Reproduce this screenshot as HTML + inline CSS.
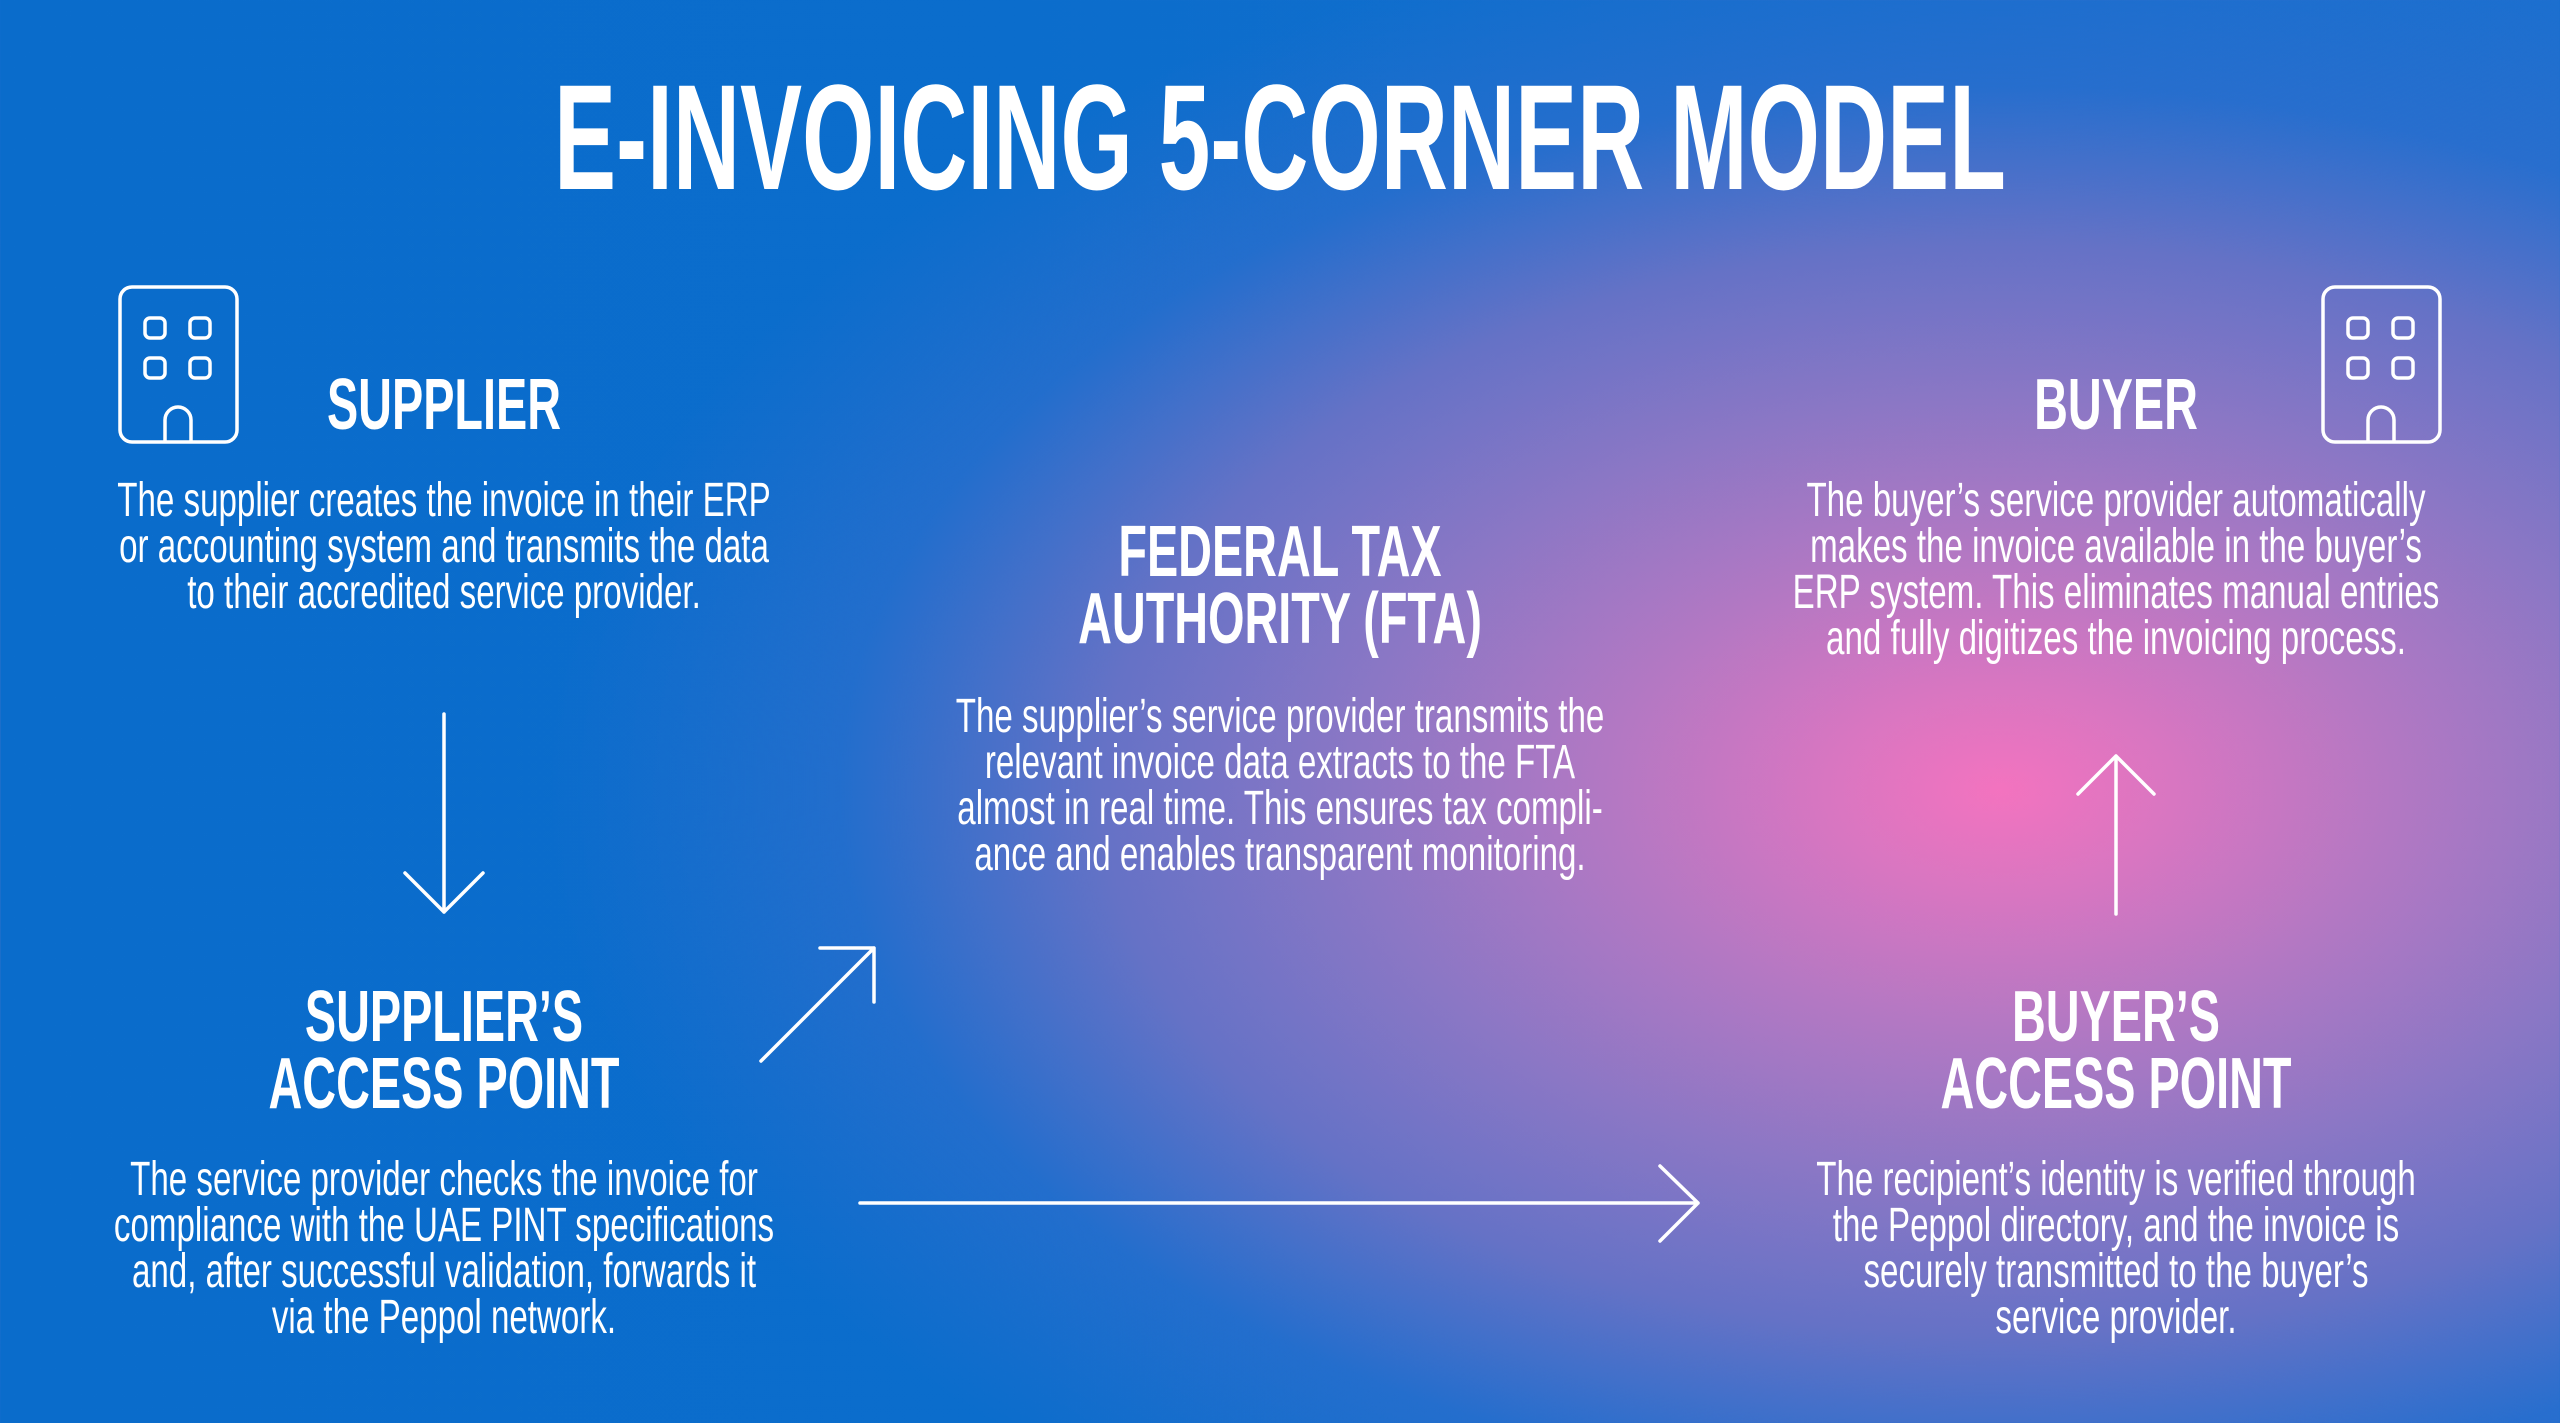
<!DOCTYPE html>
<html><head><meta charset="utf-8"><style>
html,body{margin:0;padding:0}
body{width:2560px;height:1423px;position:relative;overflow:hidden;
background:
radial-gradient(ellipse 1450px 880px at 2000px 790px, #f373bf 0%, #d876c1 12%, #b378c3 27%, #8a77c5 45%, #6572c6 62%, rgba(50,110,205,0.6) 80%, rgba(11,108,203,0) 100%),
linear-gradient(90deg,#0a6ccb 0%,#0b6dcc 40%,#1a6fcf 100%);
font-family:"Liberation Sans",sans-serif;color:#fff}
.t{position:absolute;width:2000px;text-align:center;white-space:nowrap;transform-origin:50% 50%}
.title{font-weight:bold;font-size:150px;line-height:150px;left:-220px;top:62px;width:3000px;transform:scaleX(0.62)}
.h{font-weight:bold;font-size:72px;line-height:67px;transform:scaleX(0.65)}
.b{font-size:48px;line-height:46px;transform:scaleX(0.69)}
svg{position:absolute;left:0;top:0}
</style></head><body>
<div class="t title">E-INVOICING 5-CORNER MODEL</div>

<div class="t h" style="left:-556px;top:372px">SUPPLIER</div>
<div class="t b" style="left:-556px;top:478px">The supplier creates the invoice in their ERP<br>or accounting system and transmits the data<br>to their accredited service provider.</div>

<div class="t h" style="left:280px;top:519px">FEDERAL TAX<br>AUTHORITY (FTA)</div>
<div class="t b" style="left:280px;top:694px">The supplier’s service provider transmits the<br>relevant invoice data extracts to the FTA<br>almost in real time. This ensures tax compli-<br>ance and enables transparent monitoring.</div>

<div class="t h" style="left:1116px;top:372px">BUYER</div>
<div class="t b" style="left:1116px;top:478px">The buyer’s service provider automatically<br>makes the invoice available in the buyer’s<br>ERP system. This eliminates manual entries<br>and fully digitizes the invoicing process.</div>

<div class="t h" style="left:-556px;top:984px">SUPPLIER’S<br>ACCESS POINT</div>
<div class="t b" style="left:-556px;top:1157px">The service provider checks the invoice for<br>compliance with the UAE PINT specifications<br>and, after successful validation, forwards it<br>via the Peppol network.</div>

<div class="t h" style="left:1116px;top:984px">BUYER’S<br>ACCESS POINT</div>
<div class="t b" style="left:1116px;top:1157px">The recipient’s identity is verified through<br>the Peppol directory, and the invoice is<br>securely transmitted to the buyer’s<br>service provider.</div>

<svg width="2560" height="1423" viewBox="0 0 2560 1423" fill="none" stroke="#fff" stroke-width="3.5" stroke-linecap="round" stroke-linejoin="round">
  <g id="ic">
    <rect x="120" y="287" width="117" height="155" rx="12"/>
    <rect x="145" y="318" width="20" height="20" rx="5"/>
    <rect x="190" y="318" width="20" height="20" rx="5"/>
    <rect x="145" y="358" width="20" height="20" rx="5"/>
    <rect x="190" y="358" width="20" height="20" rx="5"/>
    <path d="M165 441 V420 a13 13 0 0 1 26 0 V441"/>
  </g>
  <use href="#ic" transform="translate(2203,0)"/>
  <path d="M444 714 V912 M405 873 L444 912 L483 873"/>
  <path d="M761 1061 L874 948 M820 948 H874 V1002"/>
  <path d="M860 1203 H1698 M1660 1166 L1698 1203 L1660 1241"/>
  <path d="M2116 914 V756 M2078 794 L2116 756 L2154 794"/>
</svg>
</body></html>
